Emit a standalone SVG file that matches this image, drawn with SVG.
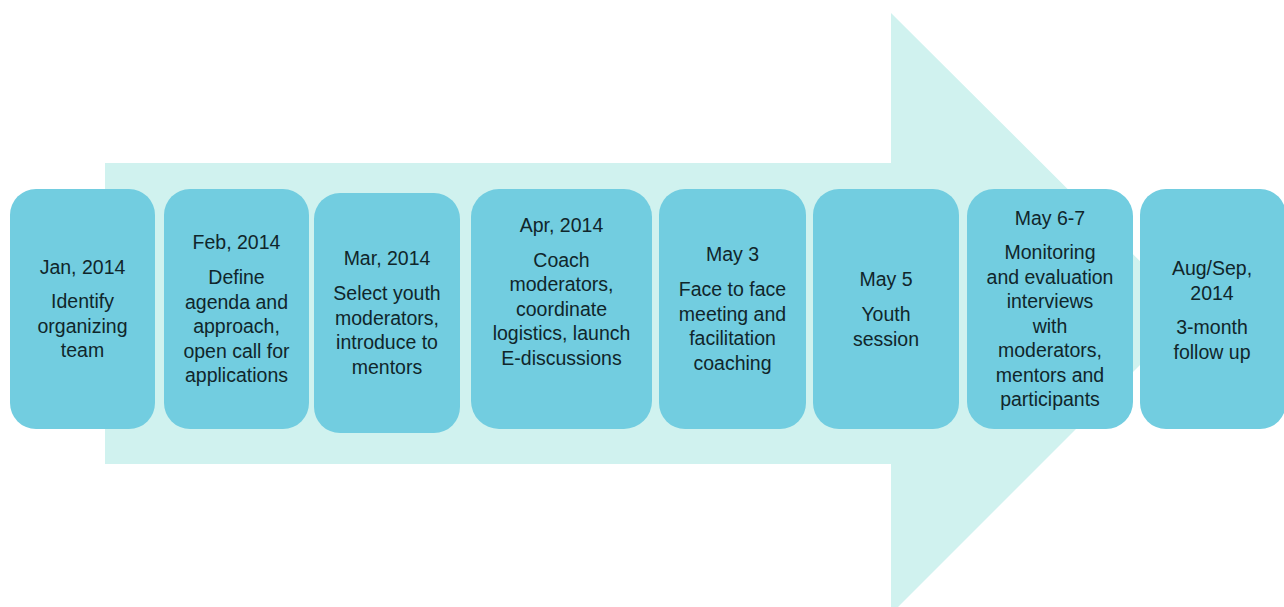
<svg xmlns="http://www.w3.org/2000/svg" width="1284" height="607" viewBox="0 0 1284 607">
<style>
.box{fill:#72cde0;}
.t{font-family:"Liberation Sans",Arial,sans-serif;font-size:19.5px;fill:#10262b;text-anchor:middle;}
</style>
<rect width="1284" height="607" fill="#ffffff"/>
<g id="arrow">
<path d="M105,163 L891,163 L891,13 L1192,313 L891,614 L891,464 L105,464 Z" fill="#d0f2ef"/>
</g>
<g id="connectors"></g>
<g id="n1">
<rect class="box" x="10" y="189" width="145" height="240" rx="26"/>
<text class="t"><tspan x="82.5" y="274">Jan, 2014</tspan><tspan x="82.5" y="308">Identify</tspan><tspan x="82.5" y="332.5">organizing</tspan><tspan x="82.5" y="357">team</tspan></text>
</g>
<g id="n2">
<rect class="box" x="164" y="189" width="145" height="240" rx="26"/>
<text class="t"><tspan x="236.5" y="249">Feb, 2014</tspan><tspan x="236.5" y="284">Define</tspan><tspan x="236.5" y="308.5">agenda and</tspan><tspan x="236.5" y="333">approach,</tspan><tspan x="236.5" y="357.5">open call for</tspan><tspan x="236.5" y="382">applications</tspan></text>
</g>
<g id="n3">
<rect class="box" x="314" y="193" width="146" height="240" rx="26"/>
<text class="t"><tspan x="387" y="265">Mar, 2014</tspan><tspan x="387" y="300">Select youth</tspan><tspan x="387" y="324.5">moderators,</tspan><tspan x="387" y="349">introduce to</tspan><tspan x="387" y="373.5">mentors</tspan></text>
</g>
<g id="n4">
<rect class="box" x="471" y="189" width="181" height="240" rx="28"/>
<text class="t"><tspan x="561.5" y="232">Apr, 2014</tspan><tspan x="561.5" y="266.5">Coach</tspan><tspan x="561.5" y="291">moderators,</tspan><tspan x="561.5" y="315.5">coordinate</tspan><tspan x="561.5" y="340">logistics, launch</tspan><tspan x="561.5" y="364.5">E-discussions</tspan></text>
</g>
<g id="n5">
<rect class="box" x="659" y="189" width="147" height="240" rx="26"/>
<text class="t"><tspan x="732.5" y="261">May 3</tspan><tspan x="732.5" y="296">Face to face</tspan><tspan x="732.5" y="320.5">meeting and</tspan><tspan x="732.5" y="345">facilitation</tspan><tspan x="732.5" y="369.5">coaching</tspan></text>
</g>
<g id="n6">
<rect class="box" x="813" y="189" width="146" height="240" rx="26"/>
<text class="t"><tspan x="886" y="286">May 5</tspan><tspan x="886" y="321">Youth</tspan><tspan x="886" y="345.5">session</tspan></text>
</g>
<g id="n7">
<rect class="box" x="967" y="189" width="166" height="240" rx="27"/>
<text class="t"><tspan x="1050" y="224.5">May 6-7</tspan><tspan x="1050" y="259">Monitoring</tspan><tspan x="1050" y="283.5">and evaluation</tspan><tspan x="1050" y="308">interviews</tspan><tspan x="1050" y="332.5">with</tspan><tspan x="1050" y="357">moderators,</tspan><tspan x="1050" y="381.5">mentors and</tspan><tspan x="1050" y="406">participants</tspan></text>
</g>
<g id="n8">
<rect class="box" x="1140" y="189" width="146" height="240" rx="26"/>
<text class="t"><tspan x="1212" y="275">Aug/Sep,</tspan><tspan x="1212" y="299.5">2014</tspan><tspan x="1212" y="334">3-month</tspan><tspan x="1212" y="358.5">follow up</tspan></text>
</g>
</svg>
